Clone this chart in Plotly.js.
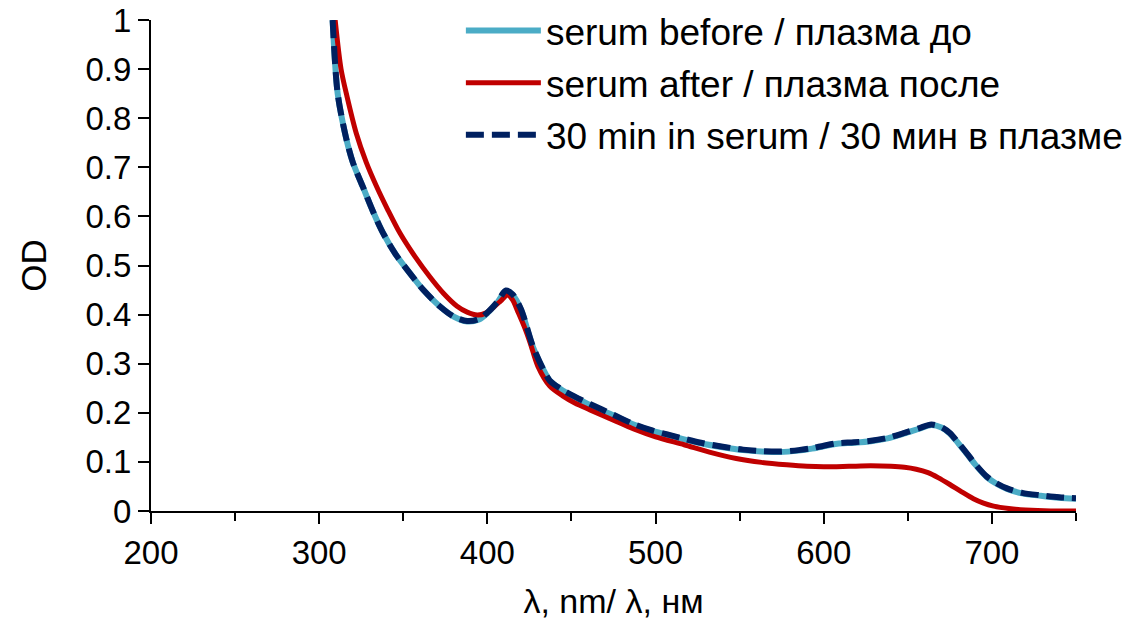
<!DOCTYPE html>
<html>
<head>
<meta charset="utf-8">
<script src="https://cdn.plot.ly/plotly-3.0.1.min.js"></script>
<style>html,body{margin:0;padding:0;background:#fff;}#chart{width:1142px;height:626px;}</style>
</head>
<body>
<div id="chart"></div>
<script>
// wavelength (nm) and optical density readings
const beforeNm  = [308,311,316,320,326,332,338,346,354,362,372,380,388,395,400,406,411,415,420,427,433,437,445,452,461,475,487,497,507,517,527,540,552,563,574,585,593,600,608,618,628,638,648,657,664,670,675,680,685,690,697,703,709,718,729,740,750];
const beforeOD  = [1.00,0.85,0.76,0.71,0.66,0.61,0.566,0.52,0.484,0.45,0.416,0.396,0.386,0.39,0.403,0.425,0.448,0.44,0.41,0.335,0.29,0.266,0.245,0.232,0.216,0.195,0.176,0.164,0.155,0.146,0.138,0.13,0.124,0.121,0.12,0.123,0.127,0.132,0.137,0.139,0.142,0.148,0.158,0.168,0.175,0.17,0.158,0.138,0.117,0.095,0.069,0.055,0.045,0.036,0.031,0.027,0.025];

const afterNm   = [309.5,313,316.5,322,328,334,341,348,357,366,374,382,388,394,399,404,408,412,415,418,422,425.5,430,437,445,452,461,475,487,500,517,532,548,563,578,590,600,615,628,640,648,655,662,668,675,682,689,695,701,710,720,735,750];
const afterOD   = [1.00,0.90,0.845,0.77,0.71,0.662,0.612,0.566,0.518,0.476,0.443,0.417,0.405,0.399,0.403,0.416,0.428,0.44,0.43,0.407,0.375,0.342,0.295,0.255,0.234,0.22,0.206,0.185,0.167,0.151,0.135,0.12,0.107,0.099,0.094,0.091,0.09,0.091,0.092,0.091,0.089,0.085,0.078,0.068,0.054,0.039,0.025,0.016,0.01,0.005,0.002,0.0,0.0];

const min30Nm   = [308,311,316,320,326,332,338,346,354,362,372,380,388,395,400,406,411,415,420,427,433,437,445,452,461,475,487,497,507,517,527,540,552,563,574,585,593,600,608,618,628,638,648,657,664,670,675,680,685,690,697,703,709,718,729,740,750];
const min30OD   = [1.00,0.85,0.76,0.71,0.66,0.61,0.566,0.52,0.484,0.45,0.416,0.396,0.387,0.391,0.404,0.426,0.449,0.441,0.411,0.336,0.29,0.266,0.246,0.233,0.218,0.196,0.177,0.165,0.156,0.147,0.139,0.131,0.125,0.122,0.121,0.124,0.128,0.133,0.138,0.14,0.143,0.149,0.159,0.169,0.176,0.171,0.159,0.139,0.118,0.096,0.07,0.056,0.046,0.037,0.032,0.028,0.026];

const seriesNames = ["serum before / плазма до", "serum after / плазма после", "30 min in serum / 30 мин в плазме"];
const xTitle = "λ, nm/ λ, нм";
const yTitle = "OD";

const FONT = "Liberation Sans, Arial, sans-serif";

const traces = [
  {x: beforeNm, y: beforeOD, name: seriesNames[0], legendgroup: "a", mode: "lines",
   line: {color: "#4BACC6", width: 6, shape: "spline", smoothing: 0.8}},
  {x: afterNm, y: afterOD, name: seriesNames[1], legendgroup: "b", mode: "lines",
   line: {color: "#C00000", width: 5, shape: "spline", smoothing: 0.8}},
  {x: min30Nm, y: min30OD, name: seriesNames[2], legendgroup: "c", mode: "lines",
   line: {color: "#002060", width: 6, dash: "18px,8px", shape: "spline", smoothing: 0.8}}
];

// paper area spans 0..511 px vertically; y-axis domain puts the plot top at 20 px
const layout = {
  width: 1142, height: 626,
  paper_bgcolor: "#ffffff", plot_bgcolor: "#ffffff",
  margin: {l: 151, r: 66, t: 0, b: 115},
  font: {family: FONT, size: 33, color: "#000000"},
  showlegend: true,
  legend: {
    x: 0.335, y: 1.0, xanchor: "left", yanchor: "top",
    bgcolor: "rgba(0,0,0,0)", font: {family: FONT, size: 37, color: "#000"},
    itemwidth: 75, tracegroupgap: 1
  },
  xaxis: {
    range: [200, 750], dtick: 100, tick0: 200,
    showgrid: false, zeroline: false,
    showline: true, linecolor: "#000", linewidth: 2,
    ticks: "outside", ticklen: 11, tickwidth: 2, tickcolor: "#000",
    minor: {dtick: 50, ticks: "outside", ticklen: 8, tickwidth: 2, tickcolor: "#000", showgrid: false},
    tickfont: {family: FONT, size: 33, color: "#000"},
    title: {text: xTitle, font: {family: FONT, size: 34, color: "#000"}, standoff: 20}
  },
  yaxis: {
    domain: [0, 491/511],
    range: [0, 1], dtick: 0.1, tick0: 0,
    showgrid: false, zeroline: false,
    showline: true, linecolor: "#000", linewidth: 2,
    ticks: "outside", ticklen: 11, tickwidth: 2, tickcolor: "#000",
    tickfont: {family: FONT, size: 33, color: "#000"},
    title: {text: yTitle, font: {family: FONT, size: 35, color: "#000"}, standoff: 28}
  }
};

Plotly.newPlot("chart", traces, layout, {displayModeBar: false, staticPlot: true});
</script>
</body>
</html>
